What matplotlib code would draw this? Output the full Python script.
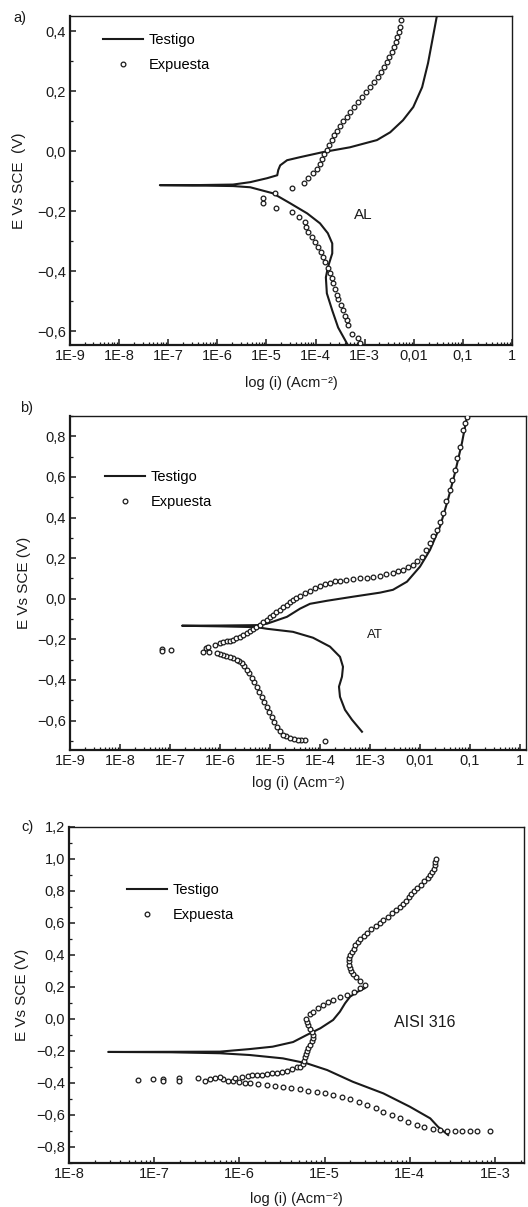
import matplotlib
matplotlib.use("Agg")
import matplotlib.pyplot as plt
from matplotlib.ticker import FixedLocator, MultipleLocator, LogLocator, NullFormatter, FuncFormatter
import numpy as np

plt.rcParams['font.family'] = ['Liberation Sans', 'DejaVu Sans']

# ---------- data (log10 of current density, potential in V) ----------
# a) AL
a_test_logi = [-3.36, -3.54, -3.66, -3.77, -3.79, -3.75, -3.66, -3.66, -3.75, -3.91, -4.17, -4.52,
               -4.87, -5.33, -5.68, -6.5, -7.17, -6.5, -5.68, -5.33, -4.99, -4.78, -4.76, -4.72,
               -4.58, -4.32, -3.85, -3.30, -2.75, -2.48, -2.22, -2.01, -1.83, -1.71, -1.61, -1.53]
a_test_e = [-0.64, -0.587, -0.53, -0.473, -0.42, -0.387, -0.34, -0.307, -0.273, -0.24, -0.207, -0.173,
            -0.14, -0.12, -0.116, -0.114, -0.113, -0.113, -0.111, -0.103, -0.09, -0.08, -0.063, -0.047,
            -0.03, -0.02, -0.003, 0.013, 0.037, 0.063, 0.103, 0.147, 0.213, 0.293, 0.38, 0.45]

a_exp_logi = [-3.09, -3.13, -3.26, -3.34, -3.36, -3.40, -3.44, -3.48, -3.54, -3.56, -3.60, -3.64,
              -3.66, -3.70, -3.75, -3.81, -3.85, -3.89, -3.95, -4.01, -4.07, -4.15, -4.19, -4.21,
              -4.34, -4.48, -4.80, -5.07, -5.07, -4.82, -4.48, -4.23, -4.15, -4.05, -3.97, -3.91,
              -3.87, -3.83, -3.77, -3.73, -3.66, -3.62, -3.56, -3.50, -3.44, -3.36, -3.30, -3.22,
              -3.13, -3.05, -2.97, -2.89, -2.81, -2.73, -2.67, -2.60, -2.54, -2.50, -2.44, -2.40,
              -2.36, -2.34, -2.30, -2.28, -2.26]
a_exp_e = [-0.64, -0.623, -0.607, -0.58, -0.563, -0.547, -0.53, -0.513, -0.493, -0.477, -0.457, -0.44,
           -0.423, -0.407, -0.39, -0.37, -0.353, -0.337, -0.32, -0.303, -0.287, -0.27, -0.253, -0.237,
           -0.22, -0.203, -0.19, -0.173, -0.157, -0.14, -0.123, -0.107, -0.09, -0.073, -0.06, -0.043,
           -0.027, -0.01, 0.003, 0.02, 0.037, 0.053, 0.067, 0.083, 0.10, 0.113, 0.13, 0.147,
           0.163, 0.18, 0.197, 0.213, 0.23, 0.247, 0.263, 0.28, 0.297, 0.313, 0.33, 0.347,
           0.363, 0.38, 0.397, 0.413, 0.437]

# b) AT
b_test_logi = [-3.16, -3.36, -3.50, -3.60, -3.62, -3.56, -3.54, -3.60, -3.80, -4.14, -4.54, -5.06,
               -5.26, -6.0, -6.76, -6.0, -5.26, -5.06, -4.66, -4.40, -4.20, -3.86, -3.34, -2.80,
               -2.54, -2.26, -2.00, -1.80, -1.60, -1.44, -1.30, -1.16, -1.06]
b_test_e = [-0.655, -0.596, -0.547, -0.483, -0.433, -0.384, -0.335, -0.286, -0.236, -0.192, -0.163, -0.148,
            -0.14, -0.136, -0.133, -0.132, -0.13, -0.123, -0.089, -0.049, -0.025, -0.01, 0.01, 0.03,
            0.044, 0.084, 0.158, 0.24, 0.355, 0.488, 0.62, 0.768, 0.897]

b_exp_logi = [-3.90, -4.30, -4.37, -4.44, -4.52, -4.60, -4.67, -4.74, -4.80, -4.86, -4.91, -4.96,
              -5.01, -5.06, -5.11, -5.16, -5.21, -5.26, -5.31, -5.36, -5.41, -5.46, -5.51, -5.56,
              -5.61, -5.66, -5.73, -5.80, -5.87, -5.94, -6.00, -6.06, -6.22, -6.34, -6.28, -6.24,
              -7.16, -7.16, -6.98,
              -6.10, -6.00, -5.93, -5.86, -5.80, -5.74, -5.67, -5.60, -5.53, -5.46, -5.40, -5.34,
              -5.27, -5.20, -5.13, -5.06, -5.00, -4.94, -4.87, -4.80, -4.73, -4.66, -4.60, -4.54,
              -4.47, -4.40, -4.30, -4.20, -4.10, -4.00, -3.90, -3.80, -3.70, -3.60, -3.47, -3.34,
              -3.20, -3.06, -2.93, -2.80, -2.67, -2.54, -2.44, -2.34, -2.24, -2.14, -2.05, -1.96,
              -1.88, -1.80, -1.73, -1.66, -1.60, -1.54, -1.47, -1.40, -1.35, -1.30, -1.25, -1.20,
              -1.14, -1.10, -1.06]
b_exp_e = [-0.70, -0.695, -0.695, -0.695, -0.69, -0.685, -0.678, -0.67, -0.652, -0.631, -0.606, -0.581,
           -0.556, -0.532, -0.507, -0.483, -0.458, -0.433, -0.41, -0.389, -0.368, -0.35, -0.332, -0.315,
           -0.307, -0.30, -0.293, -0.286, -0.281, -0.276, -0.271, -0.266, -0.26, -0.26, -0.243, -0.236,
           -0.246, -0.256, -0.251,
           -0.227, -0.217, -0.213, -0.21, -0.206, -0.202, -0.195, -0.187, -0.178, -0.168, -0.158, -0.148,
           -0.138, -0.128, -0.116, -0.103, -0.091, -0.079, -0.066, -0.054, -0.042, -0.03, -0.017, -0.005,
           0.005, 0.015, 0.027, 0.039, 0.052, 0.064, 0.072, 0.079, 0.085, 0.089, 0.094, 0.099,
           0.101, 0.103, 0.108, 0.113, 0.12, 0.128, 0.135, 0.143, 0.154, 0.167, 0.185, 0.207,
           0.24, 0.276, 0.308, 0.34, 0.38, 0.424, 0.48, 0.537, 0.586, 0.636, 0.692, 0.749,
           0.833, 0.865, 0.897]

# c) AISI 316
c_test_logi = [-3.55, -3.67, -3.76, -4.0, -4.31, -4.67, -4.97, -5.21, -5.49, -5.88, -6.23, -6.8,
               -7.54, -6.8, -6.23, -5.88, -5.61, -5.37, -5.21, -5.05, -4.90, -4.82, -4.76, -4.70,
               -4.61, -4.53]
c_test_e = [-0.725, -0.673, -0.621, -0.548, -0.465, -0.392, -0.319, -0.277, -0.246, -0.225, -0.214, -0.208,
            -0.206, -0.205, -0.204, -0.188, -0.173, -0.144, -0.10, -0.058, -0.006, 0.046, 0.098, 0.14,
            0.171, 0.192]

c_exp_logi = [-3.06, -3.21, -3.29, -3.39, -3.47, -3.56, -3.65, -3.73, -3.83, -3.92, -4.02, -4.11,
              -4.21, -4.31, -4.40, -4.50, -4.60, -4.70, -4.80, -4.90, -5.00, -5.09, -5.19, -5.29,
              -5.39, -5.49, -5.58, -5.68, -5.78, -5.88, -5.94, -6.00, -6.08,
              -6.13, -6.19, -6.23, -6.29, -6.34, -6.40, -6.49, -6.71, -6.71, -6.90, -6.90, -7.01, -7.19,
              -6.05, -5.97, -5.90, -5.85, -5.79, -5.74, -5.68, -5.62, -5.56, -5.50, -5.44, -5.38,
              -5.32, -5.29, -5.25, -5.24, -5.23, -5.22, -5.21, -5.19, -5.17, -5.15, -5.14, -5.14,
              -5.15, -5.17, -5.19, -5.21, -5.22,
              -5.17, -5.14, -5.08, -5.02, -4.96, -4.90, -4.82, -4.74, -4.66, -4.58, -4.53,
              -4.58, -4.63, -4.67, -4.69, -4.70, -4.71, -4.71, -4.71, -4.70, -4.68, -4.66, -4.64,
              -4.61, -4.58, -4.54, -4.50, -4.45, -4.40, -4.35, -4.31, -4.26, -4.21, -4.16, -4.12,
              -4.08, -4.04, -4.01, -3.98, -3.95, -3.91, -3.87, -3.83, -3.79, -3.76, -3.74, -3.72,
              -3.71, -3.70, -3.69]
c_exp_e = [-0.70, -0.70, -0.70, -0.70, -0.70, -0.698, -0.695, -0.69, -0.678, -0.663, -0.642, -0.621,
           -0.60, -0.579, -0.557, -0.537, -0.518, -0.502, -0.487, -0.475, -0.463, -0.454, -0.447, -0.44,
           -0.43, -0.423, -0.418, -0.413, -0.407, -0.402, -0.398, -0.395, -0.39,
           -0.387, -0.375, -0.363, -0.369, -0.377, -0.385, -0.369, -0.369, -0.39, -0.377, -0.387, -0.375, -0.381,
           -0.369, -0.36, -0.356, -0.353, -0.35, -0.347, -0.344, -0.34, -0.335, -0.33, -0.323, -0.315,
           -0.302, -0.30, -0.28, -0.26, -0.24, -0.22, -0.20, -0.18, -0.16, -0.14, -0.12, -0.10,
           -0.08, -0.06, -0.04, -0.02, 0.0,
           0.03, 0.046, 0.067, 0.088, 0.104, 0.119, 0.135, 0.15, 0.17, 0.192, 0.21,
           0.24, 0.26, 0.28, 0.30, 0.32, 0.34, 0.36, 0.38, 0.40, 0.42, 0.44, 0.46,
           0.48, 0.50, 0.52, 0.54, 0.56, 0.58, 0.60, 0.62, 0.64, 0.66, 0.68, 0.70,
           0.72, 0.74, 0.76, 0.78, 0.80, 0.82, 0.84, 0.86, 0.88, 0.90, 0.92, 0.94,
           0.96, 0.98, 1.00]

a_xticks = [1e-9, 1e-8, 1e-7, 1e-6, 1e-5, 1e-4, 1e-3, 1e-2, 1e-1, 1]
a_xlabels = ['1E-9', '1E-8', '1E-7', '1E-6', '1E-5', '1E-4', '1E-3', '0,01', '0,1', '1']
c_xticks = [1e-8, 1e-7, 1e-6, 1e-5, 1e-4, 1e-3]
c_xlabels = ['1E-8', '1E-7', '1E-6', '1E-5', '1E-4', '1E-3']
a_yticks = [-0.6, -0.4, -0.2, 0.0, 0.2, 0.4]
b_yticks = [-0.6, -0.4, -0.2, 0.0, 0.2, 0.4, 0.6, 0.8]
c_yticks = [-0.8, -0.6, -0.4, -0.2, 0.0, 0.2, 0.4, 0.6, 0.8, 1.0, 1.2]

INK = '#1a1a1a'


def yfmt(v, pos):
    if abs(v) < 1e-9:
        v = 0.0
    return f"{v:.1f}".replace('.', ',').replace('-', '\u2212')


def setup(ax, xticks, xlabels, xlim, yticks, ylim, ylabel, ylab_x, xpad):
    ax.set_xscale('log')
    ax.set_xlim(*xlim)
    ax.set_ylim(*ylim)
    ax.xaxis.set_major_locator(FixedLocator(xticks))
    ax.set_xticklabels(xlabels)
    ax.xaxis.set_minor_locator(LogLocator(base=10, subs=np.arange(2, 10), numticks=100))
    ax.xaxis.set_minor_formatter(NullFormatter())
    ax.yaxis.set_major_locator(FixedLocator(yticks))
    ax.yaxis.set_major_formatter(FuncFormatter(yfmt))
    ax.yaxis.set_minor_locator(MultipleLocator(0.1))
    ax.tick_params(which='both', direction='in', top=False, right=False, colors=INK,
                   labelsize=10.5, pad=3)
    ax.tick_params(which='major', length=4.5, width=1.1)
    ax.tick_params(which='minor', length=2.5, width=0.9)
    for s in ['left', 'bottom']:
        ax.spines[s].set_linewidth(1.6)
    for s in ['top', 'right']:
        ax.spines[s].set_linewidth(1.0)
    for s in ax.spines.values():
        s.set_color(INK)
    ax.set_xlabel('log (i) (Acm\u207b\u00b2)', fontsize=10.5, labelpad=xpad, color=INK)
    ax.set_ylabel(ylabel, fontsize=11, color=INK)
    ax.yaxis.set_label_coords(ylab_x, 0.5)


def draw(ax, tl, te, el, ee):
    ax.plot(10 ** np.array(tl), te, color=INK, lw=1.5, label='Testigo', zorder=2)
    ax.plot(10 ** np.array(el), ee, ls='none', marker='o', ms=3.4, mfc='white', mec=INK,
            mew=0.9, label='Expuesta', zorder=3)


def legend(ax, x, y):
    ax.legend(loc='upper left', bbox_to_anchor=(x, y), frameon=False, fontsize=10.5,
              handlelength=2.75, handletextpad=0.4, labelspacing=0.7, borderpad=0,
              borderaxespad=0, numpoints=1)


fig = plt.figure(figsize=(5.28, 12.07), dpi=100)

ax1 = fig.add_axes([70 / 528, 1 - 345 / 1207, 442 / 528, 329 / 1207])
draw(ax1, a_test_logi, a_test_e, a_exp_logi, a_exp_e)
setup(ax1, a_xticks, a_xlabels, (1e-9, 1), a_yticks, (-0.645, 0.45), 'E Vs SCE  (V)', -0.1, 9)
legend(ax1, 0.075, 0.947)
ax1.text(10 ** -3.03, -0.213, 'AL', fontsize=11, ha='center', va='center', color=INK)

ax2 = fig.add_axes([70 / 528, 1 - 750 / 1207, 456 / 528, 334 / 1207])
draw(ax2, b_test_logi, b_test_e, b_exp_logi, b_exp_e)
setup(ax2, a_xticks, a_xlabels, (1e-9, 1.32), b_yticks, (-0.745, 0.9), 'E Vs SCE (V)', -0.085, 6)
legend(ax2, 0.077, 0.837)
ax2.text(10 ** -2.9, -0.177, 'AT', fontsize=9.5, ha='center', va='center', color=INK)

ax3 = fig.add_axes([69 / 528, 1 - 1163 / 1207, 455 / 528, 336 / 1207])
draw(ax3, c_test_logi, c_test_e, c_exp_logi, c_exp_e)
setup(ax3, c_xticks, c_xlabels, (1e-8, 2.19e-3), c_yticks, (-0.9, 1.2), 'E Vs SCE (V)', -0.088, 8)
legend(ax3, 0.127, 0.832)
ax3.text(10 ** -3.82, -0.02, 'AISI 316', fontsize=11.5, ha='center', va='center', color=INK)

fig.text(20 / 528, 1 - 18 / 1207, 'a)', fontsize=10.5, ha='center', va='center', color=INK)
fig.text(27 / 528, 1 - 408 / 1207, 'b)', fontsize=10.5, ha='center', va='center', color=INK)
fig.text(27 / 528, 1 - 827 / 1207, 'c)', fontsize=10.5, ha='center', va='center', color=INK)

fig.savefig('out.png', dpi=100)
